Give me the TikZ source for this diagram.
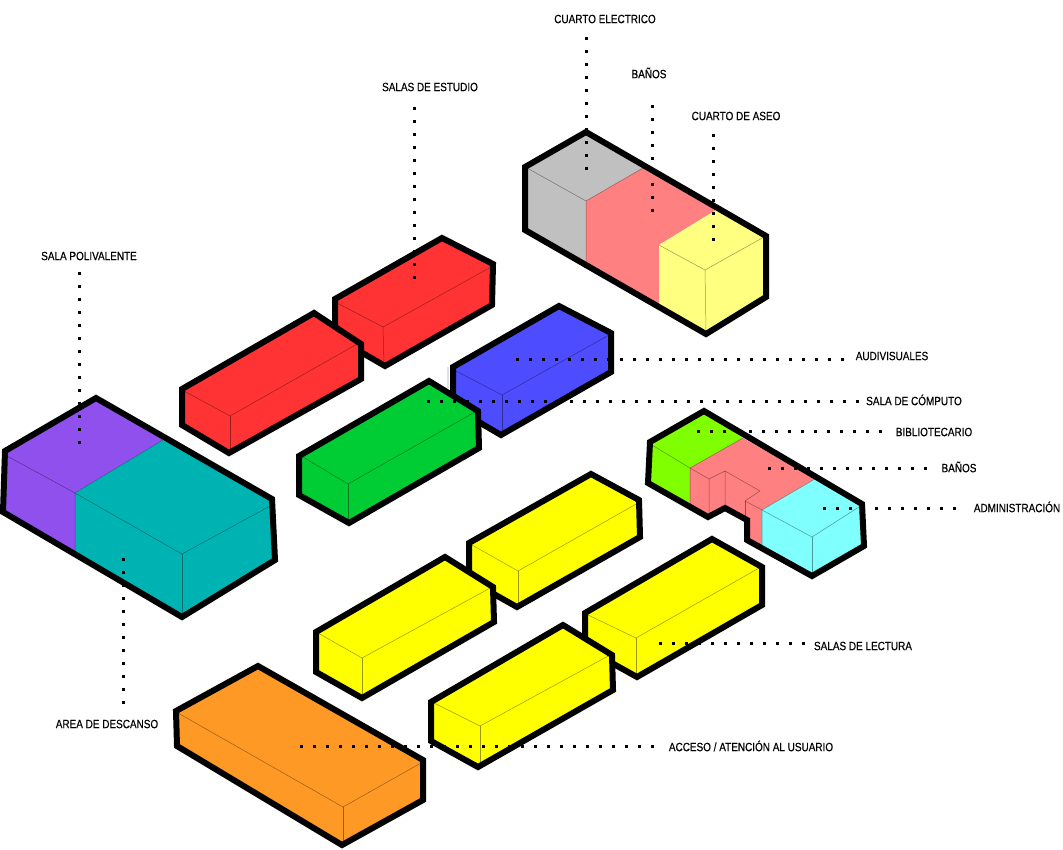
\documentclass[tikz,border=0pt]{standalone}
\usepackage{fontspec}
\setmainfont[FakeStretch=0.83,FakeBold=0.35]{Liberation Sans}
\usepackage{xcolor}
\usetikzlibrary{calc}
\definecolor{redbox}{HTML}{FF3333}
\definecolor{bluebox}{HTML}{4D4DFF}
\definecolor{greenbox}{HTML}{00CC33}
\definecolor{yellowbox}{HTML}{FFFF00}
\definecolor{orangebox}{HTML}{FF9926}
\definecolor{purplebox}{HTML}{9050EE}
\definecolor{tealbox}{HTML}{00B3B3}
\definecolor{greybox}{HTML}{C0C0C0}
\definecolor{pinkbox}{HTML}{FF8080}
\definecolor{paleyellow}{HTML}{FFFF80}
\definecolor{limebox}{HTML}{80FF00}
\definecolor{cyanbox}{HTML}{80FFFF}

\begin{document}
\begin{tikzpicture}[
   x=1pt,y=-1pt,
   blk/.style={draw=black,line width=6pt,line join=miter},
   seam/.style={draw=black,opacity=0.4,line width=0.5pt},
   lbl/.style={font=\fontsize{12}{12}\selectfont,inner sep=1pt},
   leader/.style={draw=black,line width=3pt,dash pattern=on 3pt off 10pt}
]
\path[use as bounding box,fill=white] (0,0) rectangle (1063,849);

% Top block: three rooms
\fill[greybox] (586,132) -- (525,167) -- (525,230) -- (586,267) -- (586,201) -- (643,168) -- cycle;
\fill[pinkbox] (586,201) -- (643,168) -- (716,210) -- (659,245) -- (659,307) -- (586,267) -- cycle;
\fill[paleyellow] (716,210) -- (766,236) -- (766,297) -- (706,334) -- (659,307) -- (659,245) -- cycle;
\draw[seam] (527,168) -- (586,201) -- (586,267);
\draw[seam] (586,201) -- (643,168);
\draw[seam] (659,245) -- (705,270) -- (764,237);
\draw[seam] (705,270) -- (706,330);
\draw[blk] (586,132) -- (525,167) -- (525,230) -- (706,334) -- (766,297) -- (766,236) -- cycle;

% Study rooms
\draw[blk,fill=redbox] (442,238) -- (335,299) -- (335,337) -- (385,366) -- (492,305) -- (493,264) -- cycle;
\draw[seam] (337,303) -- (383,327) -- (491,267);
\draw[seam] (383,327) -- (384,364);
\draw[blk,fill=redbox] (314,313) -- (182,389) -- (182,425) -- (229,453) -- (361,379) -- (361,344) -- cycle;
\draw[seam] (184,391) -- (230,416) -- (359,343);
\draw[seam] (230,416) -- (230,451);

% Audiovisual and computer rooms
\fill[black!12] (447,367) rectangle (449,388);
\draw[blk,fill=bluebox] (559,306) -- (453,367) -- (453,407) -- (501,435) -- (611,372) -- (611,333) -- cycle;
\draw[seam] (456,371) -- (502,395) -- (609,335);
\draw[seam] (502,395) -- (502,433);
\draw[blk,fill=greenbox] (429,381) -- (299,456) -- (299,495) -- (349,523) -- (479,448) -- (478,411) -- cycle;
\draw[seam] (303,457) -- (348,484) -- (475,412);
\draw[seam] (348,484) -- (348,521);

% Library block with the notch
\fill[limebox] (704,411) -- (650,442) -- (648,483) -- (690,507) -- (690,468) -- (743,438) -- cycle;
\fill[pinkbox] (690,468) -- (743,438) -- (815,479) -- (762,510) -- (762,547) -- (747,540) -- (747,520) -- (725,508) -- (708,517) -- (690,507) -- cycle;
\fill[cyanbox] (815,479) -- (862,504) -- (864,546) -- (812,576) -- (762,547) -- (762,510) -- cycle;
\draw[seam] (652,445) -- (690,468) -- (690,505);
\draw[seam] (690,468) -- (743,438);
\draw[seam] (690,468) -- (709,479) -- (709,515);
\draw[seam] (709,479) -- (725,471) -- (725,508);
\draw[seam] (725,471) -- (760,491) -- (745,501) -- (762,510);
\draw[seam] (745,501) -- (745,517);
\draw[seam] (815,479) -- (762,510) -- (762,547);
\draw[seam] (762,510) -- (812,537) -- (862,505);
\draw[seam] (812,537) -- (812,573);
\draw[blk] (704,411) -- (650,442) -- (648,483) -- (708,517) -- (725,508) -- (747,520) -- (747,540) -- (812,576) -- (864,546) -- (862,504) -- cycle;

% Reading rooms
\draw[blk,fill=yellowbox] (591,474) -- (469,543) -- (469,580) -- (517,607) -- (640,537) -- (639,500) -- cycle;
\draw[seam] (472,545) -- (518,571) -- (638,503);
\draw[seam] (518,571) -- (518,605);
\draw[blk,fill=yellowbox] (445,557) -- (316,632) -- (316,672) -- (362,698) -- (494,622) -- (493,587) -- cycle;
\draw[seam] (318,633) -- (362,658) -- (492,587);
\draw[seam] (362,658) -- (362,696);
\draw[blk,fill=yellowbox] (712,539) -- (585,613) -- (585,648) -- (637,677) -- (762,605) -- (762,567) -- cycle;
\draw[seam] (588,615) -- (636,638) -- (759,568);
\draw[seam] (636,638) -- (636,675);
\draw[blk,fill=yellowbox] (563,625) -- (431,702) -- (431,741) -- (478,767) -- (613,690) -- (612,655) -- cycle;
\draw[seam] (434,703) -- (480,726) -- (610,655);
\draw[seam] (480,726) -- (480,765);

% Access block
\draw[blk,fill=orangebox] (258,666) -- (176,711) -- (177,746) -- (342,845) -- (423,800) -- (423,760) -- cycle;
\draw[seam] (178,713) -- (343,807) -- (421,763);
\draw[seam] (343,807) -- (343,843);

% Multi-purpose hall and rest area
\fill[purplebox] (96,398) -- (5,451) -- (3,512) -- (75,553) -- (75,493) -- (163,440) -- cycle;
\fill[tealbox] (163,440) -- (272,499) -- (275,560) -- (182,617) -- (75,553) -- (75,493) -- cycle;
\draw[seam] (7,456) -- (75,493) -- (75,553);
\draw[seam] (75,493) -- (163,440);
\draw[seam] (75,493) -- (182,554) -- (270,506);
\draw[seam] (182,554) -- (182,615);
\draw[blk] (96,398) -- (5,451) -- (3,512) -- (182,617) -- (275,560) -- (272,499) -- cycle;

% Labels
\node[lbl] (elec) at (605,19) {CUARTO ELECTRICO};
\node[lbl] (banosA) at (649,73) {BAÑOS};
\node[lbl] (aseo) at (736,116) {CUARTO DE ASEO};
\node[lbl] (estudio) at (430,87) {SALAS DE ESTUDIO};
\node[lbl] (poli) at (89,256) {SALA POLIVALENTE};
\node[lbl] (audio) at (892,356) {AUDIVISUALES};
\node[lbl] (computo) at (914,400) {SALA DE CÓMPUTO};
\node[lbl] (biblio) at (934,432) {BIBLIOTECARIO};
\node[lbl] (banosB) at (959,467) {BAÑOS};
\node[lbl] (admin) at (1017,507) {ADMINISTRACIÓN};
\node[lbl] (lectura) at (863,646) {SALAS DE LECTURA};
\node[lbl] (acceso) at (751,746) {ACCESO / ATENCIÓN AL USUARIO};
\node[lbl] (descanso) at (107,724) {AREA DE DESCANSO};

% Dotted leaders, measured from the end inside each room
\coordinate (tipElec) at (586,170);
\coordinate (tipBanosA) at (652,212);
\coordinate (tipAseo) at (713,241);
\coordinate (tipEstudio) at (414,279);
\coordinate (tipPoli) at (79,444);
\coordinate (tipAudio) at (516,359);
\coordinate (tipComputo) at (427,401);
\coordinate (tipBiblio) at (697,431);
\coordinate (tipBanosB) at (768,468);
\coordinate (tipAdmin) at (823,508);
\coordinate (tipLectura) at (659,643);
\coordinate (tipAcceso) at (300,746);
\coordinate (tipDescanso) at (123,558);

\draw[leader,shorten >=12pt] (tipElec) -- (tipElec |- elec.south);
\draw[leader,shorten >=24pt] (tipBanosA) -- (tipBanosA |- banosA.south);
\draw[leader,shorten >=12pt] (tipAseo) -- (tipAseo |- aseo.south);
\draw[leader,shorten >=11pt] (tipEstudio) -- (tipEstudio |- estudio.south);
\draw[leader,shorten >=9pt] (tipPoli) -- (tipPoli |- poli.south);
\draw[leader,shorten >=9pt] (tipAudio) -- (tipAudio -| audio.west);
\draw[leader,shorten >=3pt] (tipComputo) -- (tipComputo -| computo.west);
\draw[leader,shorten >=12pt] (tipBiblio) -- (tipBiblio -| biblio.west);
\draw[leader,shorten >=12pt] (tipBanosB) -- (tipBanosB -| banosB.west);
\draw[leader,shorten >=12pt] (tipAdmin) -- (tipAdmin -| admin.west);
\draw[leader,shorten >=8pt] (tipLectura) -- (tipLectura -| lectura.west);
\draw[leader,shorten >=8pt] (tipAcceso) -- (tipAcceso -| acceso.west);
\draw[leader,shorten >=13pt] (tipDescanso) -- (tipDescanso |- descanso.north);
\end{tikzpicture}
\end{document}
